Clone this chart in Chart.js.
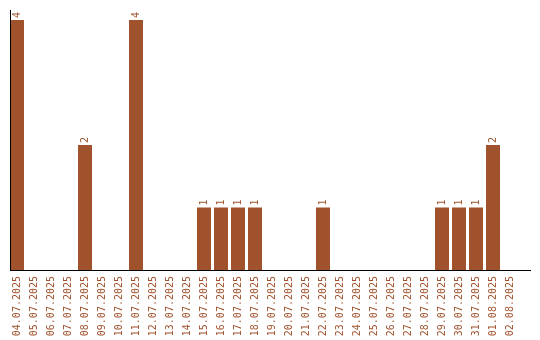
<!DOCTYPE html>
<html>
<head>
<meta charset="utf-8">
<script src="https://cdn.jsdelivr.net/npm/chart.js@4/dist/chart.umd.min.js"></script>
<style>
html,body{margin:0;padding:0;background:#fff;}
#wrap{width:540px;height:340px;}
</style>
</head>
<body>
<div id="wrap"><canvas id="c" width="540" height="340"></canvas></div>
<script>
const categories = ["04.07.2025","05.07.2025","06.07.2025","07.07.2025","08.07.2025","09.07.2025","10.07.2025","11.07.2025","12.07.2025","13.07.2025","14.07.2025","15.07.2025","16.07.2025","17.07.2025","18.07.2025","19.07.2025","20.07.2025","21.07.2025","22.07.2025","23.07.2025","24.07.2025","25.07.2025","26.07.2025","27.07.2025","28.07.2025","29.07.2025","30.07.2025","31.07.2025","01.08.2025","02.08.2025"];
const counts = [4,0,0,0,2,0,0,4,0,0,0,1,1,1,1,0,0,0,1,0,0,0,0,0,0,1,1,1,2,0];

const BROWN = '#A0522D';
const FONT = '"DejaVu Sans Mono", monospace';
const BAR_PCT = 14/17;

const axisLines = {
  id: 'axisLines',
  afterDatasetsDraw(chart) {
    const ctx = chart.ctx;
    const ca = chart.chartArea;
    const x = chart.scales.x;
    const y = chart.scales.y;
    const step = (x.right - x.left) / categories.length;
    const left = Math.round(ca.left + step * (1 - BAR_PCT) / 2);
    const y0 = Math.round(y.getPixelForValue(0));
    ctx.save();
    ctx.fillStyle = '#000';
    ctx.fillRect(left, Math.round(ca.top), 1, y0 - Math.round(ca.top));
    ctx.fillRect(left, y0, 521, 1);
    ctx.restore();
  }
};

const valueLabels = {
  id: 'valueLabels',
  afterDatasetsDraw(chart) {
    const ctx = chart.ctx;
    const meta = chart.getDatasetMeta(0);
    ctx.save();
    ctx.fillStyle = BROWN;
    ctx.font = '10px ' + FONT;
    meta.data.forEach((bar, i) => {
      const v = counts[i];
      if (!v) return;
      ctx.save();
      ctx.translate(bar.x, bar.y - 2);
      ctx.rotate(-Math.PI / 2);
      ctx.textAlign = 'left';
      ctx.textBaseline = 'middle';
      ctx.fillText(String(v), 0, 0);
      ctx.restore();
    });
    ctx.restore();
  }
};

new Chart(document.getElementById('c'), {
  type: 'bar',
  data: {
    labels: categories,
    datasets: [{
      data: counts,
      backgroundColor: BROWN,
      borderWidth: 0,
      barPercentage: BAR_PCT,
      categoryPercentage: 1
    }]
  },
  options: {
    responsive: false,
    animation: false,
    devicePixelRatio: 1,
    layout: { padding: { left: 8.5, right: 21.5, top: 10, bottom: 0 } },
    plugins: { legend: { display: false }, tooltip: { enabled: false } },
    scales: {
      x: {
        offset: true,
        grid: { display: false, drawTicks: false },
        border: { display: false },
        ticks: {
          color: BROWN,
          font: { family: FONT, size: 10 },
          minRotation: 90,
          maxRotation: 90,
          autoSkip: false,
          padding: 6
        },
        afterFit(s) { s.height = 70; }
      },
      y: {
        display: false,
        min: 0,
        max: 4.16
      }
    }
  },
  plugins: [axisLines, valueLabels]
});
</script>
</body>
</html>
